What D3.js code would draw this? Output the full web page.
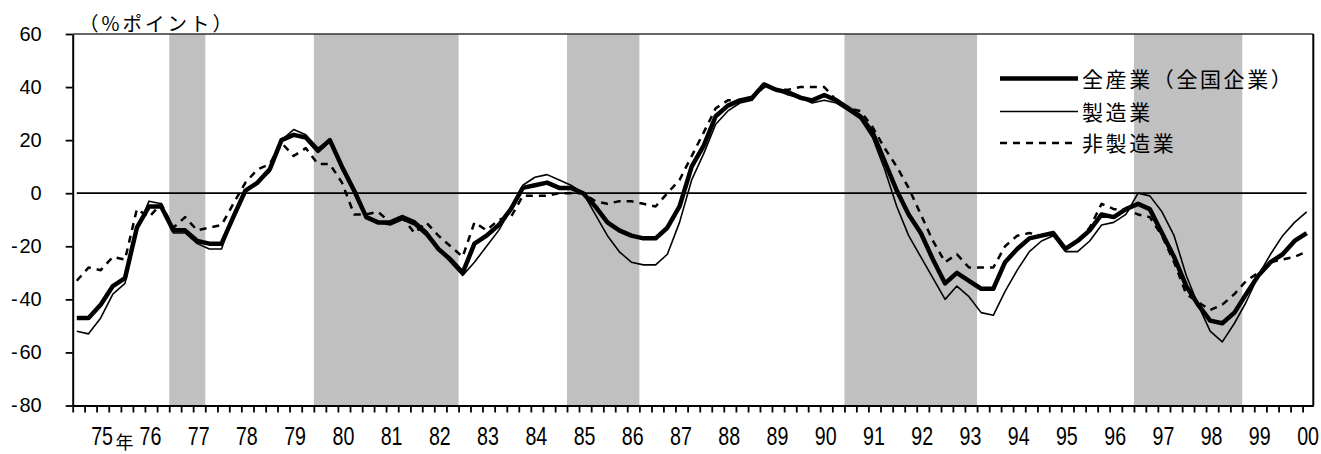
<!DOCTYPE html>
<html>
<head>
<meta charset="utf-8">
<script src="https://cdn.jsdelivr.net/npm/d3@7"></script>
<style>
  html, body { margin: 0; padding: 0; background: #fff; }
  svg { display: block; }
</style>
</head>
<body>
<svg id="chart" width="1321" height="454"></svg>
<script>
// 業況判断DI（全国企業）: quarterly survey values, Feb 1975 – Aug 2000
const allIndustries = [
  -47, -47, -42, -35,   -32, -13, -5, -5,     -14, -14, -18, -19,   -19, -9, 1, 4,
  9, 20, 22, 21,        16, 20, 10, 1,        -9, -11, -11, -9,     -11, -15, -21, -25,
  -30, -19, -16, -12,   -6, 2, 3, 4,          2, 2, 0, -5,          -11, -14, -16, -17,
  -17, -13, -5, 10,     18, 29, 33, 35,       36, 41, 39, 38,       36, 35, 37, 35,
  32, 29, 23, 12,       1, -8, -15, -25,      -34, -30, -33, -36,   -36, -26, -21, -17,
  -16, -15, -21, -18,   -14, -8, -9, -6,      -4, -6, -15, -24,     -35, -42, -48, -49,
  -45, -38, -31, -26,   -23, -18, -15
];
const manufacturing = [
  -52, -53, -47, -38,   -34, -14, -3, -4,     -15, -15, -19, -21,   -21, -8, 1, 4,
  8, 20, 24, 22,        17, 20, 9, 0,         -9, -11, -12, -10,    -12, -16, -21, -26,
  -31, -26, -20, -14,   -6, 3, 6, 7,          5, 3, 0, -8,          -16, -22, -26, -27,
  -27, -23, -11, 5,     15, 26, 31, 34,       35, 41, 39, 37,       36, 34, 35, 34,
  31, 28, 21, 9,        -5, -16, -24, -32,    -40, -35, -39, -45,   -46, -37, -29, -22,
  -18, -16, -22, -22,   -18, -12, -11, -8,    0, -1, -7, -16,       -31, -42, -52, -56,
  -49, -41, -31, -23,   -16, -11, -7
];
const nonManufacturing = [
  -33, -28, -29, -24,   -25, -6, -9, -4,      -13, -9, -14, -13,    -12, -4, 4, 9,
  11, 19, 14, 17,       11, 11, 4, -8,        -8, -7, -11, -9,      -15, -11, -16, -20,
  -24, -11, -14, -10,   -9, -1, -1, -1,       0, 0, 0, -3,          -4, -3, -3, -4,
  -5, 0, 5, 14,         23, 32, 35, 35,       36, 40, 39, 39,       40, 40, 40, 35,
  32, 31, 25, 17,       10, 2, -8, -18,       -26, -23, -28, -28,   -28, -20, -16, -15,
  -16, -15, -21, -18,   -13, -4, -6, -6,      -8, -9, -16, -26,     -38, -41, -44, -42,
  -38, -33, -30, -26,   -25, -24, -22
];

const yTicks = [-80, -60, -40, -20, 0, 20, 40, 60];
const yearLabels = ["75", "76", "77", "78", "79", "80", "81", "82", "83", "84", "85", "86", "87",
                    "88", "89", "90", "91", "92", "93", "94", "95", "96", "97", "98", "99", "00"];
const labelYears = d3.range(1975, 2001);

// recession periods (shaded), as [start, end] months
const recessions = [
  ["1977-01", "1977-10"],
  ["1980-01", "1983-01"],
  ["1985-04", "1986-10"],
  ["1991-01", "1993-10"],
  ["1997-01", "1999-04"]
];

const seriesNames = ["全産業（全国企業）", "製造業", "非製造業"];
const unitLabel = "（%ポイント）";

// ---------------------------------------------------------------
const svg = d3.select("#chart");
const plot = { left: 72.7, right: 1313.3, top: 34, bottom: 405.5 };

const x = d3.scaleTime()
  .domain([new Date(1975, 0, 1), new Date(2000, 8, 20)])
  .range([plot.left, plot.right]);
const y = d3.scaleLinear().domain([-80, 60]).range([plot.bottom, plot.top]);

// survey months: Feb / May / Aug / Nov
const dates = d3.timeMonth.range(new Date(1975, 1, 1), new Date(2000, 8, 1), 3);
const parseMonth = d3.timeParse("%Y-%m");

// shaded bands
svg.append("g").selectAll("rect")
  .data(recessions)
  .join("rect")
  .attr("x", d => x(parseMonth(d[0])))
  .attr("width", d => x(parseMonth(d[1])) - x(parseMonth(d[0])))
  .attr("y", plot.top)
  .attr("height", plot.bottom - plot.top)
  .attr("fill", "#c0c0c0");

// plot frame (top and right)
svg.append("line")
  .attr("x1", plot.left).attr("x2", plot.right)
  .attr("y1", plot.top).attr("y2", plot.top)
  .attr("stroke", "#333").attr("stroke-width", 1.3);
svg.append("line")
  .attr("x1", plot.right).attr("x2", plot.right)
  .attr("y1", plot.top).attr("y2", plot.bottom)
  .attr("stroke", "#000").attr("stroke-width", 2);

// zero line spanning the survey period
const dateExtent = d3.extent(dates);
svg.append("line")
  .attr("x1", x(dateExtent[0])).attr("x2", x(dateExtent[1]))
  .attr("y1", y(0)).attr("y2", y(0))
  .attr("stroke", "#000").attr("stroke-width", 1.7);

// series lines
const line = d3.line().x((d, i) => x(dates[i])).y(d => y(d));
const series = [
  { values: nonManufacturing, width: 2.5, dash: "7,6" },
  { values: manufacturing, width: 1.6, dash: null },
  { values: allIndustries, width: 4.5, dash: null }
];
svg.append("g").selectAll("path")
  .data(series)
  .join("path")
  .attr("d", d => line(d.values))
  .attr("fill", "none")
  .attr("stroke", "#000")
  .attr("stroke-width", d => d.width)
  .attr("stroke-dasharray", d => d.dash)
  .attr("stroke-linejoin", "round");

// y axis (negative values shown with a hair space after the sign)
const yAxis = svg.append("g")
  .attr("transform", `translate(${plot.left},0)`)
  .call(d3.axisLeft(y).tickValues(yTicks)
    .tickFormat(d => d < 0 ? "-\u200A" + (-d) : String(d))
    .tickSize(7).tickSizeOuter(0).tickPadding(24));
yAxis.select(".domain").attr("stroke", "#000").attr("stroke-width", 2);
yAxis.selectAll(".tick line").attr("stroke", "#000").attr("stroke-width", 1.8);
yAxis.selectAll(".tick text")
  .attr("fill", "#000")
  .style("font-family", "'Liberation Sans', Arial, sans-serif")
  .style("font-size", "20px");

// x axis: quarterly tick marks
const quarterStarts = d3.timeMonth.range(new Date(1975, 0, 1), new Date(2000, 9, 1), 3);
const xAxis = svg.append("g")
  .attr("transform", `translate(0,${plot.bottom})`)
  .call(d3.axisBottom(x).tickValues(quarterStarts).tickFormat("")
    .tickSize(7).tickSizeOuter(0));
xAxis.select(".domain").attr("stroke", "#000").attr("stroke-width", 2);
xAxis.selectAll(".tick line").attr("stroke", "#000").attr("stroke-width", 1.8);

// x axis: year labels (condensed)
const labelDates = labelYears.map(yr => new Date(yr, 7, 8));
const xLabels = svg.append("g")
  .attr("transform", `translate(0,${plot.bottom})`)
  .call(d3.axisBottom(x).tickValues(labelDates)
    .tickFormat((d, i) => yearLabels[i]).tickSize(0).tickPadding(0));
xLabels.select(".domain").remove();
xLabels.selectAll(".tick text")
  .attr("y", 39.5).attr("dy", null)
  .attr("transform", "scale(0.77,1)")
  .attr("fill", "#000")
  .style("font-family", "'Liberation Sans', Arial, sans-serif")
  .style("font-size", "25.5px");

// 年 suffix after the first year label
svg.append("text")
  .attr("x", x(labelDates[0]) + 23)
  .attr("y", 448.5)
  .attr("text-anchor", "middle")
  .style("font-family", "'Noto Sans CJK JP', sans-serif")
  .style("font-size", "18px")
  .text("年");

// unit label
svg.append("text")
  .attr("x", 79)
  .attr("y", 31)
  .style("font-family", "'Noto Sans CJK JP', sans-serif")
  .style("font-size", "19.5px")
  .style("letter-spacing", "3px")
  .text(unitLabel);

// legend
const legendRows = [
  { name: seriesNames[0], width: 4.5, dash: null, cy: 78.5 },
  { name: seriesNames[1], width: 1.6, dash: null, cy: 111.5 },
  { name: seriesNames[2], width: 2.5, dash: "7,6", cy: 143 }
];
const legend = svg.append("g");
const rows = legend.selectAll("g").data(legendRows).join("g");
rows.append("line")
  .attr("x1", 1000).attr("x2", 1078)
  .attr("y1", d => d.cy).attr("y2", d => d.cy)
  .attr("stroke", "#000")
  .attr("stroke-width", d => d.width)
  .attr("stroke-dasharray", d => d.dash);
rows.append("text")
  .attr("x", 1082)
  .attr("y", d => d.cy + 8)
  .style("font-family", "'Noto Sans CJK JP', sans-serif")
  .style("font-size", "21px")
  .style("letter-spacing", "2.6px")
  .text(d => d.name);
</script>
</body>
</html>
